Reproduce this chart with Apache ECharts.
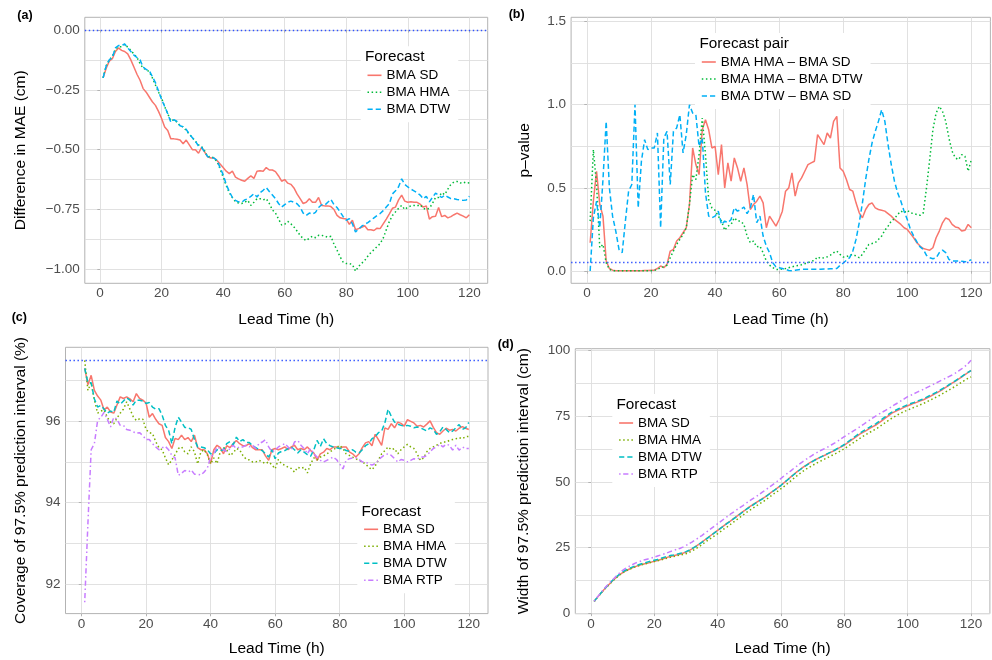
<!DOCTYPE html>
<html><head><meta charset="utf-8">
<script src="https://cdn.jsdelivr.net/npm/echarts@6/dist/echarts.min.js"></script>
<style>html,body{margin:0;padding:0;background:#fff}#c{width:992px;height:660px}</style>
</head><body><div id="c"></div>
<script>
const leadTime = [1,2,3,4,5,6,7,8,9,10,11,12,13,14,15,16,17,18,19,20,21,22,23,24,25,26,27,28,29,30,31,32,33,34,35,36,37,38,39,40,41,42,43,44,45,46,47,48,49,50,51,52,53,54,55,56,57,58,59,60,61,62,63,64,65,66,67,68,69,70,71,72,73,74,75,76,77,78,79,80,81,82,83,84,85,86,87,88,89,90,91,92,93,94,95,96,97,98,99,100,101,102,103,104,105,106,107,108,109,110,111,112,113,114,115,116,117,118,119,120];

// (a) Difference in MAE
const maeSD = [-0.20,-0.16,-0.13,-0.12,-0.09,-0.075,-0.085,-0.09,-0.10,-0.125,
-0.155,-0.185,-0.21,-0.245,-0.26,-0.28,-0.30,-0.315,-0.34,-0.37,
-0.405,-0.42,-0.455,-0.455,-0.457,-0.46,-0.475,-0.46,-0.48,-0.50,
-0.50,-0.515,-0.49,-0.51,-0.53,-0.535,-0.535,-0.545,-0.56,-0.575,
-0.59,-0.60,-0.59,-0.615,-0.622,-0.628,-0.632,-0.62,-0.61,-0.62,
-0.59,-0.588,-0.59,-0.575,-0.585,-0.585,-0.592,-0.61,-0.632,-0.625,
-0.64,-0.645,-0.66,-0.685,-0.705,-0.725,-0.72,-0.705,-0.72,-0.72,
-0.70,-0.733,-0.735,-0.735,-0.738,-0.75,-0.775,-0.785,-0.788,-0.79,
-0.812,-0.795,-0.835,-0.83,-0.825,-0.818,-0.835,-0.835,-0.838,-0.828,
-0.83,-0.81,-0.79,-0.768,-0.745,-0.74,-0.71,-0.69,-0.715,-0.72,
-0.718,-0.72,-0.72,-0.728,-0.74,-0.735,-0.79,-0.78,-0.778,-0.742,
-0.78,-0.775,-0.785,-0.78,-0.772,-0.765,-0.772,-0.778,-0.785,-0.772];
const maeHMA = [-0.20,-0.15,-0.125,-0.11,-0.08,-0.07,-0.07,-0.06,-0.072,-0.085,
-0.10,-0.115,-0.14,-0.16,-0.165,-0.175,-0.20,-0.23,-0.26,-0.285,
-0.32,-0.35,-0.38,-0.375,-0.385,-0.40,-0.405,-0.42,-0.435,-0.45,
-0.465,-0.48,-0.488,-0.505,-0.53,-0.528,-0.535,-0.55,-0.58,-0.615,
-0.65,-0.68,-0.70,-0.718,-0.723,-0.725,-0.72,-0.712,-0.733,-0.72,
-0.705,-0.705,-0.71,-0.705,-0.725,-0.752,-0.765,-0.79,-0.815,-0.812,
-0.80,-0.81,-0.823,-0.84,-0.858,-0.872,-0.88,-0.87,-0.862,-0.868,
-0.858,-0.858,-0.862,-0.866,-0.862,-0.895,-0.92,-0.948,-0.97,-0.976,
-0.976,-0.98,-1.008,-0.988,-0.975,-0.963,-0.945,-0.93,-0.918,-0.905,
-0.893,-0.87,-0.835,-0.80,-0.775,-0.76,-0.745,-0.733,-0.75,-0.74,
-0.735,-0.733,-0.735,-0.73,-0.745,-0.75,-0.745,-0.725,-0.70,-0.70,
-0.68,-0.688,-0.665,-0.645,-0.635,-0.633,-0.64,-0.635,-0.64,-0.638];
const maeDTW = [-0.20,-0.15,-0.125,-0.115,-0.075,-0.065,-0.065,-0.058,-0.075,-0.09,
-0.105,-0.115,-0.125,-0.155,-0.165,-0.17,-0.195,-0.22,-0.255,-0.29,
-0.32,-0.35,-0.385,-0.375,-0.382,-0.40,-0.405,-0.415,-0.435,-0.45,
-0.465,-0.485,-0.49,-0.51,-0.53,-0.532,-0.535,-0.545,-0.575,-0.605,
-0.645,-0.675,-0.70,-0.712,-0.718,-0.72,-0.71,-0.705,-0.695,-0.684,
-0.698,-0.68,-0.67,-0.658,-0.675,-0.69,-0.705,-0.725,-0.74,-0.73,
-0.72,-0.715,-0.72,-0.726,-0.74,-0.765,-0.775,-0.765,-0.77,-0.762,
-0.742,-0.73,-0.732,-0.72,-0.708,-0.73,-0.742,-0.76,-0.78,-0.795,
-0.788,-0.81,-0.844,-0.832,-0.82,-0.812,-0.805,-0.795,-0.785,-0.775,
-0.767,-0.755,-0.74,-0.726,-0.685,-0.672,-0.655,-0.622,-0.645,-0.656,
-0.665,-0.672,-0.68,-0.69,-0.705,-0.695,-0.718,-0.70,-0.682,-0.69,
-0.70,-0.69,-0.698,-0.705,-0.705,-0.708,-0.71,-0.712,-0.71,-0.695];

// (b) p-values
const pHmaSd = [0.17,0.42,0.60,0.40,0.33,0.06,0.015,0.005,0.002,0.001,
0.001,0.001,0.001,0.001,0.002,0.002,0.002,0.003,0.003,0.004,
0.005,0.015,0.03,0.02,0.04,0.12,0.13,0.18,0.20,0.23,
0.26,0.40,0.74,0.64,0.58,0.85,0.91,0.85,0.74,0.75,
0.58,0.76,0.50,0.65,0.54,0.68,0.62,0.54,0.62,0.52,
0.37,0.40,0.42,0.45,0.41,0.26,0.33,0.30,0.27,0.31,
0.36,0.48,0.50,0.59,0.45,0.53,0.56,0.60,0.64,0.65,
0.66,0.82,0.79,0.76,0.83,0.80,0.90,0.93,0.62,0.60,
0.55,0.49,0.48,0.41,0.35,0.32,0.37,0.40,0.41,0.38,
0.37,0.365,0.36,0.345,0.33,0.31,0.295,0.28,0.26,0.25,
0.225,0.20,0.17,0.15,0.135,0.13,0.125,0.14,0.20,0.24,
0.29,0.32,0.31,0.28,0.265,0.26,0.24,0.245,0.28,0.26];
const pHmaDtw = [0.30,0.73,0.52,0.14,0.16,0.05,0.01,0.002,0.001,0.001,
0.001,0.001,0.001,0.001,0.001,0.001,0.001,0.002,0.002,0.002,
0.003,0.01,0.02,0.025,0.035,0.08,0.12,0.16,0.19,0.22,
0.26,0.40,0.58,0.55,0.70,0.92,0.70,0.43,0.38,0.365,
0.33,0.30,0.245,0.27,0.28,0.32,0.30,0.30,0.28,0.21,
0.17,0.18,0.145,0.15,0.11,0.06,0.035,0.02,0.01,0.008,
0.012,0.015,0.02,0.025,0.03,0.033,0.038,0.044,0.05,0.058,
0.064,0.085,0.075,0.08,0.085,0.095,0.11,0.12,0.10,0.084,
0.086,0.095,0.10,0.09,0.08,0.10,0.13,0.16,0.165,0.17,
0.19,0.21,0.245,0.27,0.30,0.315,0.34,0.36,0.35,0.365,
0.35,0.345,0.34,0.335,0.35,0.50,0.67,0.85,0.95,0.99,
0.96,0.90,0.80,0.72,0.68,0.67,0.70,0.69,0.60,0.67];
const pDtwSd = [0.0,0.32,0.42,0.26,0.55,0.90,0.50,0.33,0.24,0.13,
0.11,0.30,0.48,0.52,1.00,0.38,0.66,0.79,0.73,0.74,
0.74,0.83,0.26,0.80,0.84,0.52,0.84,0.86,0.94,0.71,
0.82,1.00,0.95,0.94,0.75,0.80,0.47,0.33,0.32,0.33,
0.36,0.28,0.30,0.29,0.31,0.38,0.36,0.37,0.385,0.345,
0.38,0.46,0.29,0.33,0.21,0.15,0.11,0.05,0.025,0.02,
0.015,0.01,0.003,0.002,0.005,0.008,0.01,0.01,0.01,0.01,
0.01,0.01,0.01,0.012,0.012,0.014,0.014,0.015,0.034,0.048,
0.064,0.08,0.12,0.19,0.29,0.41,0.55,0.67,0.77,0.84,
0.90,0.97,0.90,0.76,0.64,0.54,0.47,0.42,0.36,0.31,
0.25,0.21,0.175,0.145,0.13,0.094,0.08,0.074,0.078,0.11,
0.125,0.11,0.07,0.06,0.06,0.06,0.058,0.055,0.06,0.068];

// (c) Coverage
const covSD = [97.3,96.9,97.13,96.76,96.62,96.52,96.28,96.35,96.23,96.2,
96.4,96.6,96.56,96.6,96.55,96.48,96.68,96.56,96.52,96.45,
96.1,96.19,96.05,95.94,95.9,95.6,95.5,95.33,95.58,95.55,
95.66,95.55,95.6,95.5,95.66,95.35,95.3,95.3,95.2,94.96,
95.3,95.41,95.35,95.2,95.4,95.35,95.45,95.53,95.45,95.4,
95.4,95.45,95.35,95.3,95.3,95.3,95.15,95.04,95.3,95.33,
95.3,95.33,95.37,95.3,95.37,95.41,95.3,95.33,95.3,95.37,
95.28,95.22,95.04,95.2,95.24,95.33,95.3,95.37,95.37,95.33,
95.37,95.37,95.25,95.2,95.12,95.2,95.35,95.47,95.5,95.4,
95.68,95.55,95.41,95.84,95.8,95.94,95.84,95.98,95.95,95.88,
96.04,96.0,95.96,95.88,95.9,95.86,95.93,96.01,95.85,95.72,
95.68,95.76,95.83,95.78,95.8,95.76,95.83,95.87,95.83,95.8];
const covHMA = [97.5,96.76,96.95,96.52,96.2,96.25,96.28,96.1,95.98,95.94,
96.08,96.2,96.3,96.48,96.3,96.12,96.02,96.06,96.05,95.8,
95.72,95.7,95.5,95.35,95.3,95.1,94.93,95.05,95.18,95.33,
95.37,95.25,95.2,95.37,95.25,94.95,95.25,95.3,95.18,94.95,
95.1,94.96,95.25,95.35,95.3,95.16,95.22,95.33,95.3,95.16,
95.07,95.05,95.0,95.0,95.04,95.0,94.96,95.0,94.93,94.83,
95.06,94.95,94.92,94.87,94.84,94.75,94.87,94.84,94.87,94.73,
94.95,95.1,95.05,95.12,95.15,95.2,95.25,95.3,95.35,95.41,
95.33,95.2,95.16,95.12,95.08,95.04,95.0,94.95,94.87,94.81,
94.9,95.05,95.2,95.28,95.37,95.3,95.33,95.2,95.3,95.37,
95.43,95.37,95.33,95.2,95.04,95.1,95.25,95.33,95.37,95.41,
95.45,95.49,95.49,95.53,95.55,95.57,95.6,95.57,95.62,95.63];
const covDTW = [97.3,96.95,96.95,96.55,96.35,96.39,96.3,96.2,96.25,96.22,
96.5,96.42,96.5,96.58,96.52,96.4,96.52,96.52,96.5,96.44,
96.46,96.35,96.3,96.31,96.15,95.9,95.78,95.45,95.85,96.1,
95.98,95.85,95.85,95.8,95.55,95.37,95.37,95.35,95.3,95.2,
95.2,95.3,95.28,95.3,95.45,95.5,95.42,95.61,95.5,95.55,
95.48,95.48,95.4,95.35,95.3,95.28,95.2,95.12,95.3,95.08,
95.22,95.26,95.28,95.33,95.37,95.3,95.22,95.3,95.24,95.18,
95.14,95.3,95.53,95.38,95.57,95.45,95.4,95.37,95.35,95.33,
95.33,95.28,95.26,95.3,95.24,95.22,95.3,95.4,95.45,95.57,
95.62,95.72,95.76,95.96,96.3,96.12,95.98,95.93,95.9,95.88,
95.9,95.88,95.84,95.86,95.84,95.8,95.76,95.84,95.8,95.68,
95.74,95.86,95.8,95.72,95.76,95.84,95.92,95.8,95.84,95.97];
const covRTP = [91.55,93.5,95.3,95.45,96.02,96.1,96.22,96.05,95.86,96.1,
96.05,95.9,95.9,95.8,95.78,95.74,95.71,95.72,95.65,95.55,
95.55,95.45,95.37,95.3,95.35,95.38,95.3,95.16,95.1,94.67,
94.72,94.79,94.75,94.8,94.7,94.7,94.68,94.75,94.85,95.12,
95.2,95.37,95.33,95.3,95.25,95.33,95.41,95.33,95.37,95.37,
95.41,95.37,95.41,95.33,95.45,95.49,95.55,95.37,95.25,95.29,
95.37,95.41,95.45,95.37,95.29,95.49,95.53,95.41,95.33,95.2,
95.33,95.2,95.12,95.04,95.0,95.04,95.08,95.12,95.06,94.95,
94.83,95.04,95.08,95.1,95.1,95.06,95.0,95.0,94.96,94.92,
94.96,95.04,95.12,95.18,95.2,95.16,95.08,95.0,95.06,95.04,
95.0,95.04,95.08,95.06,95.12,95.12,95.16,95.25,95.33,95.37,
95.43,95.37,95.44,95.41,95.29,95.41,95.29,95.37,95.33,95.33];

// (d) Width
const widSD = [4.6,6.1,7.5,8.9,10.2,11.4,12.6,13.7,14.7,15.5,
16.2,16.8,17.3,17.8,18.2,18.6,18.9,19.2,19.5,19.8,
20.1,20.5,20.9,21.3,21.6,21.9,22.2,22.5,22.9,23.3,
23.9,24.6,25.4,26.2,27.1,28.0,28.9,29.8,30.7,31.6,
32.5,33.4,34.3,35.1,36.0,36.9,37.8,38.7,39.6,40.5,
41.3,42.0,42.8,43.5,44.3,45.2,46.1,46.9,47.8,48.7,
49.7,50.7,51.8,52.8,53.8,54.7,55.6,56.4,57.2,57.9,
58.5,59.1,59.7,60.2,60.8,61.4,62.0,62.7,63.3,64.0,
64.8,65.7,66.5,67.4,68.2,68.9,69.6,70.3,71.0,71.6,
72.5,73.4,74.3,75.2,76.1,76.7,77.3,77.8,78.4,78.9,
79.4,79.9,80.3,80.8,81.2,81.8,82.4,83.1,83.7,84.4,
85.1,85.9,86.7,87.5,88.2,89.0,89.8,90.7,91.5,92.4];
const widHMA = [4.5,6.0,7.4,8.8,10.1,11.3,12.5,13.6,14.6,15.4,
16.1,16.7,17.2,17.7,18.1,18.5,18.8,19.1,19.4,19.7,
20.0,20.3,20.7,21.0,21.3,21.6,21.9,22.1,22.4,22.7,
23.2,23.8,24.5,25.3,26.1,27.0,27.9,28.7,29.5,30.3,
31.2,32.1,32.9,33.8,34.7,35.6,36.5,37.4,38.3,39.1,
39.9,40.7,41.5,42.2,43.0,43.9,44.8,45.7,46.5,47.4,
48.3,49.3,50.3,51.3,52.3,53.2,54.1,54.9,55.6,56.3,
57.0,57.6,58.2,58.8,59.4,60.0,60.6,61.2,61.9,62.6,
63.4,64.2,65.0,65.8,66.6,67.4,68.1,68.8,69.5,70.1,
70.9,71.7,72.6,73.4,74.2,74.9,75.6,76.2,76.8,77.3,
77.8,78.3,78.8,79.3,79.8,80.4,81.0,81.6,82.2,82.8,
83.5,84.2,84.9,85.6,86.3,87.1,87.8,88.6,89.3,89.9];
const widDTW = [4.6,6.1,7.6,9.0,10.3,11.6,12.8,13.9,14.9,15.8,
16.5,17.1,17.6,18.1,18.5,18.9,19.2,19.6,19.9,20.2,
20.5,20.9,21.3,21.7,22.0,22.2,22.5,22.8,23.1,23.5,
24.0,24.7,25.4,26.2,27.0,27.9,28.8,29.7,30.6,31.5,
32.4,33.3,34.2,35.0,35.9,36.8,37.7,38.6,39.5,40.3,
41.1,41.9,42.7,43.4,44.2,45.1,46.0,46.9,47.8,48.7,
49.7,50.7,51.7,52.7,53.7,54.6,55.5,56.3,57.1,57.8,
58.5,59.1,59.7,60.3,60.9,61.5,62.1,62.8,63.5,64.2,
65.1,66.0,66.9,67.8,68.6,69.4,70.1,70.8,71.5,72.1,
73.0,73.9,74.8,75.7,76.5,77.1,77.7,78.3,78.8,79.3,
79.8,80.2,80.7,81.1,81.6,82.2,82.8,83.4,84.0,84.7,
85.4,86.1,86.9,87.6,88.4,89.2,90.0,90.8,91.6,92.3];
const widRTP = [4.6,6.2,7.7,9.1,10.5,11.8,13.0,14.2,15.3,16.4,
17.2,17.9,18.5,19.1,19.6,20.0,20.4,20.7,21.0,21.4,
21.8,22.2,22.6,23.0,23.5,23.9,24.3,24.7,25.2,25.8,
26.5,27.2,28.0,28.8,29.6,30.5,31.4,32.3,33.2,34.1,
35.0,35.9,36.8,37.7,38.5,39.4,40.2,41.0,41.9,42.7,
43.5,44.3,45.1,46.0,46.8,47.7,48.6,49.5,50.4,51.3,
52.3,53.2,54.1,55.1,56.0,56.9,57.8,58.6,59.4,60.2,
60.9,61.6,62.2,62.8,63.4,64.1,64.8,65.6,66.4,67.2,
68.0,68.7,69.5,70.2,71.0,71.8,72.7,73.5,74.3,75.1,
75.8,76.5,77.2,77.9,78.6,79.4,80.1,80.9,81.6,82.4,
82.9,83.5,84.1,84.6,85.2,85.8,86.4,87.0,87.6,88.2,
88.8,89.4,90.0,90.6,91.3,92.1,92.9,93.8,94.9,96.2];

// reference lines and tick labels
const refMAE = 0, refP = 0.05, refCov = 97.5;
const xTicks = [0,20,40,60,80,100,120];
const maeTicks = [-1,-0.75,-0.5,-0.25,0], maeMinor = [-0.875,-0.625,-0.375,-0.125];
const pTicks = [0,0.5,1,1.5], pMinor = [0.25,0.75,1.25];
const covTicks = [92,94,96], covMinor = [93,95,97];
const widTicks = [0,25,50,75,100], widMinor = [12.5,37.5,62.5,87.5];

const FONT = '"Liberation Sans", Arial, Helvetica, sans-serif';
const C3 = {SD:'#F8766D', HMA:'#00BA38', DTW:'#00B0F6'};
const C4 = {SD:'#F8766D', HMA:'#7CAE00', DTW:'#00BFC4', RTP:'#C77CFF'};
const DASH = {solid:'solid', dotted:[1.5,2.6], dashed:[5.2,3], dotdash:[1.5,2.6,5.2,3]};
const REF = {color:'#2f52ff', type:[1.4,2.6], width:1.4};

const grids = [
  {left:84.8, top:17.3, width:402.9, height:266},
  {left:571.1, top:17.3, width:419.3, height:266},
  {left:65.5, top:347.3, width:422.5, height:266.3},
  {left:575.3, top:348.7, width:414.6, height:265}
].map(g => Object.assign(g, {show:true, borderColor:'#b3b3b3', borderWidth:1, backgroundColor:'transparent', containLabel:false, outerBoundsMode:'none'}));

const gridLine = {show:true, lineStyle:{color:'#dedede', width:0.9}};
const tickLabel = {color:'#4d4d4d', fontSize:13.5, fontFamily:FONT};
const axisTitle = {color:'#000', fontSize:15.5, fontFamily:FONT};

const xNameGap = [28.5, 28.5, 27.5, 27.4];
const xAxes = grids.map((g,i) => ({
  gridIndex:i, type:'value', min:-4.95, max:125.95,
  axisLine:{show:false},
  axisTick:{show:true, length:2.7, lineStyle:{color:'#b3b3b3'}, customValues:xTicks},
  axisLabel:Object.assign({customValues:xTicks, margin:3.3, formatter:v=>String(v)}, tickLabel),
  splitLine:gridLine,
  name:'Lead Time (h)', nameLocation:'middle', nameGap:xNameGap[i], nameTextStyle:axisTitle, nameMoveOverlap:false
}));

const fmtMAE = v => (v < 0 ? '\u2212' : '') + Math.abs(v).toFixed(2);
const yDefs = [
  {min:-1.0585, max:0.053, ticks:maeTicks, minor:maeMinor, fmt:fmtMAE, name:'Difference in MAE (cm)', gap:56},
  {min:-0.074, max:1.526, ticks:pTicks, minor:pMinor, fmt:v=>v.toFixed(1), name:'p\u2013value', gap:38},
  {min:91.27, max:97.82, ticks:covTicks, minor:covMinor, fmt:v=>String(v), name:'Coverage of 97.5% prediction interval (%)', gap:37},
  {min:-0.1, max:100.6, ticks:widTicks, minor:widMinor, fmt:v=>String(v), name:'Width of 97.5% prediction interval (cm)', gap:44}
];
const yAxes = [];
yDefs.forEach((d,i) => {
  yAxes.push({
    gridIndex:i, type:'value', min:d.min, max:d.max, position:'left',
    axisLine:{show:false},
    axisTick:{show:true, length:2.7, lineStyle:{color:'#b3b3b3'}, customValues:d.ticks},
    axisLabel:Object.assign({customValues:d.ticks, margin:5, formatter:d.fmt}, tickLabel),
    splitLine:gridLine,
    name:d.name, nameLocation:'middle', nameGap:d.gap, nameTextStyle:axisTitle, nameMoveOverlap:false
  });
  yAxes.push({
    gridIndex:i, type:'value', min:d.min, max:d.max, position:'left',
    axisLine:{show:false}, axisLabel:{show:false},
    axisTick:{show:false, customValues:d.minor},
    splitLine:gridLine
  });
});

function line(name, panel, vals, color, dash, ref) {
  const s = {
    type:'line', name:name, xAxisIndex:panel, yAxisIndex:panel*2,
    data:leadTime.map((h,i)=>[h, vals[i]]),
    symbol:'none', showSymbol:false, silent:true,
    lineStyle:{color:color, width:1.5, type:dash},
    itemStyle:{color:color}, z:3
  };
  if (ref !== undefined) {
    s.markLine = {silent:true, symbol:'none', label:{show:false}, animation:false,
      lineStyle:REF, data:[{yAxis:ref}]};
  }
  return s;
}

const series = [
  line('a|BMA SD', 0, maeSD, C3.SD, DASH.solid, refMAE),
  line('a|BMA HMA', 0, maeHMA, C3.HMA, DASH.dotted),
  line('a|BMA DTW', 0, maeDTW, C3.DTW, DASH.dashed),
  line('b|BMA HMA \u2013 BMA SD', 1, pHmaSd, C3.SD, DASH.solid, refP),
  line('b|BMA HMA \u2013 BMA DTW', 1, pHmaDtw, C3.HMA, DASH.dotted),
  line('b|BMA DTW \u2013 BMA SD', 1, pDtwSd, C3.DTW, DASH.dashed),
  line('c|BMA SD', 2, covSD, C4.SD, DASH.solid, refCov),
  line('c|BMA HMA', 2, covHMA, C4.HMA, DASH.dotted),
  line('c|BMA DTW', 2, covDTW, C4.DTW, DASH.dashed),
  line('c|BMA RTP', 2, covRTP, C4.RTP, DASH.dotdash),
  line('d|BMA SD', 3, widSD, C4.SD, DASH.solid),
  line('d|BMA HMA', 3, widHMA, C4.HMA, DASH.dotted),
  line('d|BMA DTW', 3, widDTW, C4.DTW, DASH.dashed),
  line('d|BMA RTP', 3, widRTP, C4.RTP, DASH.dotdash)
];

function legend(prefix, left, top) {
  return {
    data: series.filter(s=>s.name.startsWith(prefix+'|')).map(s=>s.name),
    left:left, top:top, orient:'vertical', itemWidth:14, itemHeight:14, itemGap:3,
    padding:[22,8,6,6], backgroundColor:'#ffffff', selectedMode:false,
    formatter:n=>n.split('|')[1],
    itemStyle:{opacity:0},
    lineStyle:{width:1.6},
    textStyle:{fontSize:13.5, color:'#000', fontFamily:FONT, lineHeight:14}
  };
}

function txt(text, left, top, size, bold) {
  return {text:text, left:left, top:top, padding:0,
    textStyle:{fontSize:size, fontWeight:bold?'bold':'normal', color:'#000', fontFamily:FONT}};
}

const option = {
  animation:false,
  backgroundColor:'#ffffff',
  grid:grids, xAxis:xAxes, yAxis:yAxes, series:series,
  legend:[legend('a',360.7,46.3), legend('b',695,33), legend('c',357.3,500.3), legend('d',612.3,394)],
  title:[
    txt('(a)',17.3,9.5,12.5,true), txt('(b)',508.7,8,12.5,true),
    txt('(c)',11.7,311,12.5,true), txt('(d)',497.7,338.5,12.5,true),
    txt('Forecast',365,49.3,15.3,false), txt('Forecast pair',699.5,36.3,15.3,false),
    txt('Forecast',361.5,504,15.3,false), txt('Forecast',616.5,397.6,15.3,false)
  ]
};
const chart = echarts.init(document.getElementById('c'), null, {renderer:'canvas'});
chart.setOption(option);
</script></body></html>
